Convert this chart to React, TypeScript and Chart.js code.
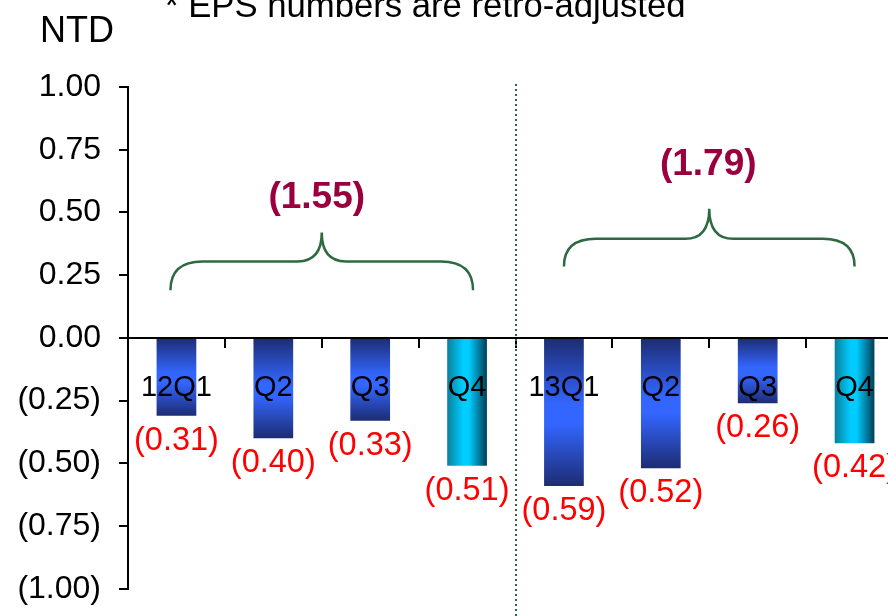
import React, { useEffect, useRef } from "react";
import { Chart, registerables } from "chart.js";

Chart.register(...registerables);

const categories = ["12Q1", "Q2", "Q3", "Q4", "13Q1", "Q2", "Q3", "Q4"];
const eps = [-0.31, -0.4, -0.33, -0.51, -0.59, -0.52, -0.26, -0.42];
const yTicks = [1, 0.75, 0.5, 0.25, 0, -0.25, -0.5, -0.75, -1];
const groupStarts = [0, 4];
const groupEnds = [3, 7];
const groupTotals = ["(1.55)", "(1.79)"];
const titleText = "* EPS numbers are retro-adjusted";
const unitText = "NTD";

// brace layout (axis units / pixel insets)
const braceBottom = [0.19, 0.285];
const braceLine = [0.305, 0.395];
const bracePeak = [0.42, 0.515];
const totalLevel = [0.56, 0.69];
const braceOutset = [6, 0];

const FONT = "'Liberation Sans', Arial, Helvetica, sans-serif";

const fmt = (v: number) => (v < 0 ? `(${(-v).toFixed(2)})` : v.toFixed(2));

const overlay = {
  id: "overlay",
  afterDatasetsDraw(chart: any) {
    const { ctx, chartArea, scales } = chart;
    const x = scales.x;
    const y = scales.y;
    const y0 = y.getPixelForValue(0);
    const step = x.getPixelForValue(1) - x.getPixelForValue(0);
    ctx.save();

    // zero axis line + ticks
    ctx.strokeStyle = "#000";
    ctx.lineWidth = 2;
    ctx.beginPath();
    ctx.moveTo(chartArea.left, y0);
    ctx.lineTo(chartArea.right + 10, y0);
    ctx.stroke();
    for (let i = 1; i <= categories.length; i++) {
      const bx = Math.round(x.getPixelForValue(i) - step / 2);
      ctx.beginPath();
      ctx.moveTo(bx, y0);
      ctx.lineTo(bx, y0 + 10);
      ctx.stroke();
    }

    // dotted separator
    const sx = Math.round((x.getPixelForValue(3) + x.getPixelForValue(4)) / 2);
    ctx.strokeStyle = "#2e6b45";
    ctx.lineWidth = 2;
    ctx.setLineDash([2, 3]);
    ctx.beginPath();
    ctx.moveTo(sx, chartArea.top - 3);
    ctx.lineTo(sx, chart.height);
    ctx.stroke();
    ctx.setLineDash([]);

    // category labels
    ctx.fillStyle = "#000";
    ctx.font = `29px ${FONT}`;
    ctx.textAlign = "center";
    ctx.textBaseline = "alphabetic";
    categories.forEach((c, i) => {
      ctx.fillText(c, x.getPixelForValue(i), y.getPixelForValue(-0.23));
    });

    // value labels
    ctx.fillStyle = "#ff0000";
    ctx.font = `32.5px ${FONT}`;
    ctx.textBaseline = "middle";
    eps.forEach((v, i) => {
      ctx.fillText(fmt(v), x.getPixelForValue(i), y.getPixelForValue(v) + 25);
    });

    // braces + totals
    groupStarts.forEach((s, g) => {
      const xl = x.getPixelForValue(s) - braceOutset[g];
      const xr = x.getPixelForValue(groupEnds[g]) + braceOutset[g];
      const xc = (xl + xr) / 2;
      const yb = y.getPixelForValue(braceBottom[g]);
      const yh = y.getPixelForValue(braceLine[g]);
      const yp = y.getPixelForValue(bracePeak[g]);
      ctx.strokeStyle = "#2d6a42";
      ctx.lineWidth = 2.5;
      ctx.beginPath();
      ctx.moveTo(xl, yb);
      ctx.quadraticCurveTo(xl, yh, xl + 32, yh);
      ctx.lineTo(xc - 24, yh);
      ctx.quadraticCurveTo(xc, yh, xc, yp);
      ctx.quadraticCurveTo(xc, yh, xc + 24, yh);
      ctx.lineTo(xr - 32, yh);
      ctx.quadraticCurveTo(xr, yh, xr, yb);
      ctx.stroke();

      ctx.fillStyle = "#99003d";
      ctx.font = `bold 37px ${FONT}`;
      ctx.textAlign = "center";
      ctx.textBaseline = "middle";
      ctx.fillText(groupTotals[g], xc - 5 + g * 4, y.getPixelForValue(totalLevel[g]));
    });

    // title and unit
    ctx.fillStyle = "#000";
    ctx.textAlign = "left";
    ctx.textBaseline = "alphabetic";
    ctx.font = `34.7px ${FONT}`;
    ctx.fillText(titleText, 165, 17);
    ctx.font = `36px ${FONT}`;
    ctx.fillText(unitText, 40, 42);
    ctx.restore();
  },
};

export default function App() {
  const ref = useRef<HTMLCanvasElement>(null);
  useEffect(() => {
    if (!ref.current) return;
    const chart = new Chart(ref.current, {
      type: "bar",
      data: {
        labels: categories,
        datasets: [
          {
            data: eps,
            borderWidth: 0,
            categoryPercentage: 1,
            barPercentage: 0.41,
            backgroundColor: (c: any) => {
              const ch = c.chart;
              const { chartArea, scales, ctx } = ch;
              if (!chartArea || c.type !== "data" || !scales.x || !scales.y) return "#3366ff";
              const i = c.dataIndex;
              const cx = scales.x.getPixelForValue(i);
              const step = scales.x.getPixelForValue(1) - scales.x.getPixelForValue(0);
              const hw = (step * 0.41) / 2;
              if (categories[i] === "Q4") {
                const g = ctx.createLinearGradient(cx - hw, 0, cx + hw, 0);
                g.addColorStop(0, "#0a7f9c");
                g.addColorStop(0.4, "#00ccff");
                g.addColorStop(0.55, "#00ccff");
                g.addColorStop(1, "#003f55");
                return g;
              }
              const y0 = scales.y.getPixelForValue(0);
              const y1 = scales.y.getPixelForValue(eps[i]);
              const g = ctx.createLinearGradient(0, y0, 0, y1);
              g.addColorStop(0, "#1d2c72");
              g.addColorStop(0.45, "#3366ff");
              g.addColorStop(0.58, "#3366ff");
              g.addColorStop(1, "#1d2c72");
              return g;
            },
          },
        ],
      },
      options: {
        responsive: false,
        animation: false,
        devicePixelRatio: 1,
        layout: { padding: { top: 87, bottom: 18, right: 3, left: 0 } },
        plugins: { legend: { display: false }, tooltip: { enabled: false }, title: { display: false } },
        scales: {
          x: { display: false },
          y: {
            min: -1,
            max: 1,
            afterFit: (s: any) => {
              s.width = 128;
            },
            afterBuildTicks: (s: any) => {
              s.ticks = yTicks.map((v) => ({ value: v }));
            },
            border: { display: true, color: "#000", width: 2 },
            grid: { drawOnChartArea: false, drawTicks: true, tickLength: 9, color: "#000", lineWidth: 2 },
            ticks: {
              color: "#000",
              padding: 18,
              font: { family: FONT, size: 32 },
              callback: (v: any) => fmt(Number(v)),
            },
          },
        },
      },
      plugins: [overlay],
    });
    return () => chart.destroy();
  }, []);
  return (
    <div style={{ position: "absolute", left: 0, top: 0, width: 888, height: 616, overflow: "hidden", background: "#fff" }}>
      <canvas ref={ref} width={906} height={626} style={{ display: "block" }} />
    </div>
  );
}
